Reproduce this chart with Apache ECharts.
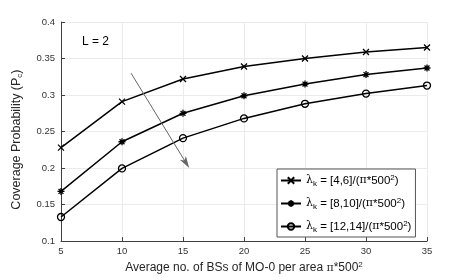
<!DOCTYPE html>
<html><head><meta charset="utf-8">
<script src="https://cdn.jsdelivr.net/npm/echarts@6/dist/echarts.min.js"></script>
<style>html,body{margin:0;padding:0;background:#fff}#c{width:471px;height:280px}</style>
</head><body><div id="c"></div>
<script>
const xValues = [5, 10, 15, 20, 25, 30, 35];
const seriesNames = ['[4,6]', '[8,10]', '[12,14]'];
const s1 = [0.228, 0.291, 0.322, 0.339, 0.350, 0.359, 0.365];
const s2 = [0.168, 0.236, 0.275, 0.299, 0.315, 0.328, 0.337];
const s3 = [0.133, 0.1995, 0.241, 0.268, 0.288, 0.302, 0.313];
const yTicks = { min: 0.1, max: 0.4, interval: 0.05 };
const xTicks = { min: 5, max: 35, interval: 5 };
const arrowStart = [10.74, 0.330];
const arrowEnd = [15.25, 0.207];
const annotText = 'L = 2';
const annotPos = [6.72, 0.371];

const FONT = '"Liberation Sans", Arial, sans-serif';
const TXT = '#262626';
const pair = arr => xValues.map((x, i) => [x, arr[i]]);

const crossPath = 'path://M0,0L10,10M10,0L0,10';
const starPath = 'path://M5,0L5,10M0,5L10,5M1.5,1.5L8.5,8.5M8.5,1.5L1.5,8.5';

const richLegend = {
  b: { fontFamily: FONT, fontSize: 11.5, color: '#000', lineHeight: 15 },
  g: { fontFamily: '"DejaVu Serif", serif', fontSize: 11, color: '#000', lineHeight: 15 },
  sub: { fontFamily: FONT, fontSize: 8, color: '#000', lineHeight: 9, padding: [7, 0, 0, 0] },
  sup: { fontFamily: FONT, fontSize: 8, color: '#000', lineHeight: 9, padding: [0, 0, 6, 0] }
};

function mk(name, data, symbol, size, fill) {
  return {
    name: name, type: 'line', data: pair(data),
    symbol: symbol, symbolSize: size, showSymbol: true,
    lineStyle: { color: '#000', width: 1.5 },
    itemStyle: { color: fill, borderColor: '#000', borderWidth: 1.3 },
    emphasis: { disabled: true }, animation: false
  };
}

const chart = echarts.init(document.getElementById('c'), null, { renderer: 'canvas' });
const series = [
  mk(seriesNames[0], s1, crossPath, 6, '#000'),
  mk(seriesNames[1], s2, starPath, 7, '#000'),
  mk(seriesNames[2], s3, 'circle', 7, 'rgba(255,255,255,0)')
];
series[0].markLine = {
  silent: true, animation: false,
  symbol: ['none', 'path://M5,0L10,12L5,9L0,12Z'], symbolSize: [7, 12],
  label: { show: false },
  lineStyle: { color: '#666', width: 1, type: 'solid' },
  data: [[{ coord: arrowStart }, { coord: arrowEnd }]]
};

chart.setOption({
  animation: false,
  grid: { left: 61, right: 44, top: 22, bottom: 31 },
  xAxis: {
    type: 'value', min: xTicks.min, max: xTicks.max, interval: xTicks.interval,
    name: 'Average no. of BSs of MO-0 per area {g|π}*500{sup|2}',
    nameLocation: 'middle', nameGap: 12,
    nameTextStyle: {
      fontFamily: FONT, fontSize: 12, color: TXT,
      rich: {
        g: { fontFamily: '"DejaVu Serif", serif', fontSize: 11, color: TXT, lineHeight: 14 },
        sup: { fontFamily: FONT, fontSize: 8, color: TXT, lineHeight: 8, padding: [0, 0, 6, 0] }
      }
    },
    axisLine: { show: true, lineStyle: { color: '#404040', width: 1 } },
    axisTick: { show: true, inside: true, length: 4, lineStyle: { color: '#404040' } },
    axisLabel: { fontFamily: FONT, fontSize: 9.5, color: '#333', margin: 5 },
    splitLine: { show: true, lineStyle: { color: '#ebebeb', width: 1 } }
  },
  yAxis: {
    type: 'value', min: yTicks.min, max: yTicks.max, interval: yTicks.interval,
    name: 'Coverage Probability (P{sub|c})',
    nameLocation: 'middle', nameGap: 38,
    nameTextStyle: {
      fontFamily: FONT, fontSize: 12.5, color: TXT, padding: [0, 16, 0, 0],
      rich: {
        sub: { fontFamily: FONT, fontSize: 8, color: TXT, lineHeight: 8, padding: [7, 0, 0, 0] }
      }
    },
    axisLine: { show: true, lineStyle: { color: '#404040', width: 1 } },
    axisTick: { show: true, inside: true, length: 4, lineStyle: { color: '#404040' } },
    axisLabel: { fontFamily: FONT, fontSize: 9.5, color: '#333', margin: 6 },
    splitLine: { show: true, lineStyle: { color: '#ebebeb', width: 1 } }
  },
  legend: {
    orient: 'vertical', left: 277, top: 169,
    padding: [4, 4, 3, 3], itemGap: 8, itemWidth: 20, itemHeight: 8,
    backgroundColor: '#fff', borderColor: '#555', borderWidth: 1,
    selectedMode: false,
    data: seriesNames,
    formatter: n => '{g|λ}{sub|k}{b| = ' + n + '/(}{g|π}{b|*500}{sup|2}{b|)}',
    textStyle: { fontFamily: FONT, fontSize: 11.5, color: '#000', rich: richLegend }
  },
  series: series
});

const p = chart.convertToPixel({ gridIndex: 0 }, annotPos);
chart.setOption({
  graphic: [{
    type: 'text', left: p[0], top: p[1] - 7,
    style: { text: annotText, fontFamily: FONT, fontSize: 12, fill: '#000' }
  }]
});
</script></body></html>
